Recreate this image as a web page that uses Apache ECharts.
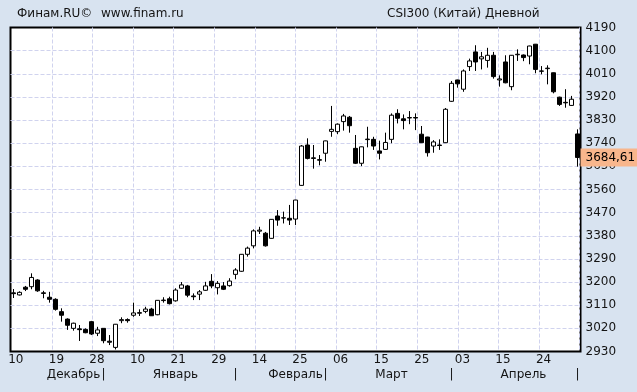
<!DOCTYPE html>
<html>
<head>
<meta charset="utf-8">
<script src="https://cdn.jsdelivr.net/npm/echarts@6/dist/echarts.min.js"></script>
<style>
html,body{margin:0;padding:0;background:#d8e3f0;}
#chart{width:637px;height:392px;}
</style>
</head>
<body>
<div id="chart"></div>
<script>
const categories = ['2018-12-10','2018-12-11','2018-12-12','2018-12-13','2018-12-14','2018-12-17','2018-12-18','2018-12-19','2018-12-20','2018-12-21','2018-12-24','2018-12-25','2018-12-26','2018-12-27','2018-12-28','2019-01-02','2019-01-03','2019-01-04','2019-01-07','2019-01-08','2019-01-09','2019-01-10','2019-01-11','2019-01-14','2019-01-15','2019-01-16','2019-01-17','2019-01-18','2019-01-21','2019-01-22','2019-01-23','2019-01-24','2019-01-25','2019-01-28','2019-01-29','2019-01-30','2019-01-31','2019-02-01','2019-02-11','2019-02-12','2019-02-13','2019-02-14','2019-02-15','2019-02-18','2019-02-19','2019-02-20','2019-02-21','2019-02-22','2019-02-25','2019-02-26','2019-02-27','2019-02-28','2019-03-01','2019-03-04','2019-03-05','2019-03-06','2019-03-07','2019-03-08','2019-03-11','2019-03-12','2019-03-13','2019-03-14','2019-03-15','2019-03-18','2019-03-19','2019-03-20','2019-03-21','2019-03-22','2019-03-25','2019-03-26','2019-03-27','2019-03-28','2019-03-29','2019-04-01','2019-04-02','2019-04-03','2019-04-04','2019-04-08','2019-04-09','2019-04-10','2019-04-11','2019-04-12','2019-04-15','2019-04-16','2019-04-17','2019-04-18','2019-04-19','2019-04-22','2019-04-23','2019-04-24','2019-04-25','2019-04-26','2019-04-29','2019-04-30','2019-05-06'];

const openValues = [3158,3150,3180,3182,3208,3158,3141,3133,3085,3056,3020,3018,3016,3046,3001,3020,2970,2946,3050,3054,3071,3081,3086,3095,3073,3128,3135,3127,3176,3185,3146,3153,3168,3203,3178,3185,3186,3230,3242,3308,3341,3398,3390,3370,3457,3449,3448,3445,3576,3733,3683,3676,3701,3786,3785,3824,3841,3720,3662,3754,3755,3710,3716,3755,3856,3835,3838,3840,3775,3764,3729,3733,3742,3903,3986,3950,4038,4095,4068,4062,4082,3986,4056,3960,4084,4083,4079,4125,4021,4030,4014,3919,3899,3887,3776];
const closeValues = [3155,3160,3172,3218,3166,3156,3133,3094,3071,3032,3040,3015,3003,2998,3014,2972,2966,3036,3054,3050,3080,3079,3095,3069,3129,3130,3116,3169,3189,3149,3143,3162,3185,3185,3195,3172,3204,3247,3308,3332,3399,3402,3341,3444,3441,3450,3441,3519,3729,3681,3681,3674,3749,3794,3814,3846,3808,3662,3726,3756,3729,3701,3743,3849,3837,3828,3840,3838,3742,3703,3745,3731,3872,3973,3971,4021,4060,4056,4076,4082,3999,3990,3975,4082,4086,4073,4118,4027,4020,4032,3940,3891,3897,3911,3684.61];
const lowValues = [3138,3148,3165,3172,3162,3137,3120,3089,3046,3014,3011,2971,3001,2994,2990,2962,2955,2938,3040,3042,3065,3068,3079,3068,3071,3120,3113,3124,3174,3141,3130,3130,3166,3176,3152,3169,3182,3211,3240,3299,3331,3387,3338,3369,3419,3428,3422,3422,3574,3677,3641,3654,3668,3765,3775,3789,3781,3659,3651,3724,3714,3677,3714,3740,3817,3794,3814,3791,3741,3688,3703,3714,3741,3901,3956,3940,4021,4021,4027,4034,3991,3960,3973,3946,4060,4059,4047,4012,4008,3969,3934,3885,3878,3885,3649];
const highValues = [3173,3164,3185,3234,3211,3166,3162,3137,3098,3059,3042,3033,3020,3049,3026,3020,2994,3037,3063,3059,3120,3094,3104,3100,3130,3141,3143,3176,3200,3189,3156,3169,3201,3231,3204,3200,3215,3254,3309,3338,3405,3415,3395,3445,3480,3474,3500,3520,3733,3759,3733,3694,3750,3885,3817,3854,3846,3772,3727,3804,3765,3750,3781,3856,3872,3852,3865,3856,3807,3765,3752,3755,3877,3982,3987,4027,4069,4121,4095,4111,4095,4004,4082,4083,4105,4085,4119,4126,4040,4043,4015,3921,3950,3924,3794];

const yTickLabels = ['2930','3020','3110','3200','3290','3380','3470','3560','3650','3740','3830','3920','4010','4100','4190'];
const dayTickLabels = ['10','19','28','10','21','29','14','25','06','15','25','03','15','24'];
const monthNames = ['Декабрь','Январь','Февраль','Март','Апрель'];
const monthNameIndex = [10,27,47,63,85];
const monthStartIndex = [15,37,52,73,94];

const titleLeft = 'Финам.RU©';
const titleSite = 'www.finam.ru';
const titleRight = 'CSI300 (Китай) Дневной';

const candleData = categories.map((c, i) => [openValues[i], closeValues[i], lowValues[i], highValues[i]]);
const lastClose = closeValues[closeValues.length - 1];

const FONT = 'DejaVu Sans';
const TXT = '#141414';
const GRIDC = '#d0d3ee';

const chart = echarts.init(document.getElementById('chart'), null, {renderer: 'canvas'});
chart.setOption({
  animation: false,
  backgroundColor: '#d8e3f0',
  title: [
    {text: titleLeft, left: 12, top: 3, textStyle: {fontFamily: FONT, fontSize: 12, fontWeight: 'normal', color: TXT}},
    {text: titleSite, left: 96, top: 3, textStyle: {fontFamily: FONT, fontSize: 12, fontWeight: 'normal', color: TXT}},
    {text: titleRight, left: 382, top: 3, textStyle: {fontFamily: FONT, fontSize: 12, fontWeight: 'normal', color: TXT}}
  ],
  grid: [
    {left: 10.5, right: 56.5, top: 27.5, bottom: 40.5, show: true, backgroundColor: '#ffffff', borderColor: '#000', borderWidth: 2},
    {left: 11.3, right: 56.5, top: 27.5, bottom: 40.5, show: false}
  ],
  xAxis: [
    {gridIndex: 0, type: 'category', data: categories, boundaryGap: true,
     axisLine: {show: false}, axisTick: {show: false}, axisLabel: {show: false}, splitLine: {show: false}},
    {gridIndex: 1, type: 'value', min: 0, max: 14.02, interval: 1,
     axisLine: {show: false}, axisTick: {show: false},
     splitLine: {show: true, showMinLine: false, showMaxLine: false, lineStyle: {color: GRIDC, type: [4, 2], width: 1}},
     axisLabel: {show: true, margin: 2, fontFamily: FONT, fontSize: 12, color: TXT, align: 'center', padding: [0, 0, 0, 9],
       showMinLabel: true, showMaxLabel: true,
       formatter: function (v) { const k = Math.round(v); return (Math.abs(v - k) < 1e-6 && k < dayTickLabels.length) ? dayTickLabels[k] : ''; }}},
    {gridIndex: 0, type: 'category', data: categories, boundaryGap: true, position: 'bottom', offset: 17,
     axisLine: {show: false}, axisTick: {show: false}, splitLine: {show: false},
     axisLabel: {show: true, interval: 0, margin: 0, fontFamily: FONT, fontSize: 12, color: TXT,
       formatter: function (val, idx) {
         const m = monthNameIndex.indexOf(idx);
         if (m >= 0) return monthNames[m];
         if (monthStartIndex.indexOf(idx) >= 0) return '|';
         return '';
       }}}
  ],
  yAxis: [
    {gridIndex: 0, type: 'value', min: 2930, max: 4190, show: false, splitLine: {show: false}},
    {gridIndex: 0, type: 'value', min: 0, max: 14, interval: 1, position: 'right',
     axisLine: {show: false}, axisTick: {show: false},
     splitLine: {show: true, showMinLine: false, showMaxLine: false, lineStyle: {color: GRIDC, type: [4, 2], width: 1}},
     axisLabel: {show: true, margin: 5, fontFamily: FONT, fontSize: 12, color: TXT,
       formatter: function (v) { return yTickLabels[Math.round(v)] || ''; }}},
    {gridIndex: 1, type: 'value', min: 0, max: 1, show: false, splitLine: {show: false}}
  ],
  series: [{
    type: 'candlestick',
    xAxisIndex: 0, yAxisIndex: 0,
    data: candleData,
    barWidth: 4,
    itemStyle: {color: '#ffffff', color0: '#000000', borderColor: '#000000', borderColor0: '#000000', borderWidth: 1},
    markLine: {
      silent: true, symbol: ['none', 'none'], animation: false,
      lineStyle: {color: 'rgba(0,0,0,0)', width: 0, type: 'solid'},
      data: [{yAxis: lastClose}],
      label: {show: true, position: 'end', distance: 0, fontFamily: FONT, fontSize: 12, color: '#000',
        backgroundColor: '#f8b68c', padding: [3, 6, 3, 5],
        formatter: function () { return lastClose.toFixed(2).replace('.', ','); }}
    }
  }]
});
</script>
</body>
</html>
